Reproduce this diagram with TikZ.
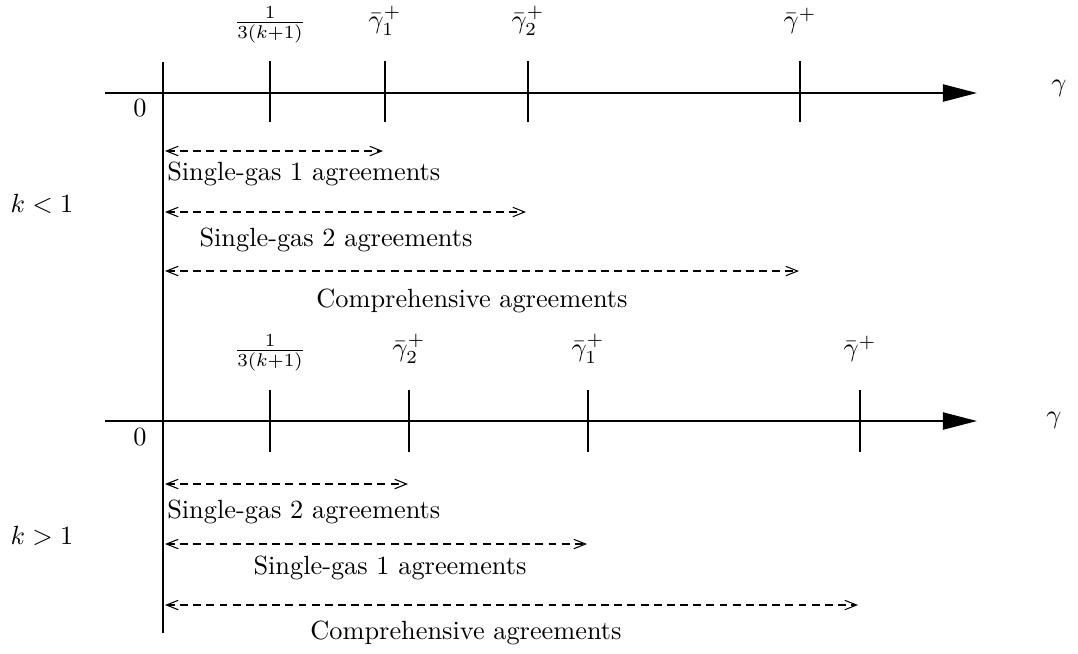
\documentclass[tikz,border=0pt]{standalone}
\usepackage{amsmath}
\usepackage{tikz}
\usetikzlibrary{arrows,arrows.meta}
\usetikzlibrary{calc}

\begin{document}
\begin{tikzpicture}[line cap=butt,line join=round,x=0.38pt,y=-0.38pt,
  axis/.style={line width=.8pt,-{Triangle[length=13pt,width=6.5pt]}},
  tick/.style={line width=.8pt},
  agreement/.style={{Straight Barb[length=4.5pt,width=3.6pt,line width=.4pt]}-{Straight Barb[length=4.5pt,width=3.6pt,line width=.4pt]},line width=.4pt,dash pattern=on 3pt off 2pt}]
\useasboundingbox (0,0) rectangle (1078,653);
% vertical axis
\draw[line width=.8pt] (163,62) -- (163,633);
%%%% case k < 1
\draw[axis] (105,93) -- (977,93);
\draw (1059,88) node {$\gamma$};
\draw (140,108) node {$0$};
\draw (270,25) node {$\frac{1}{3(k+1)}$};
\foreach \x/\lab in {385/{\bar{\gamma}_1^+},528/{\bar{\gamma}_2^+},800/{\bar{\gamma}^+}}
\draw (\x,21) node {$\lab$};
\foreach \x in {270,385,528,800}
\draw[tick] (\x,61) -- (\x,122);
\draw (42,204) node {$k<1$};
\draw[agreement] (165,151) -- (383,151);
\draw (158,174) node[right] {Single-gas 1 agreements};
\draw[agreement] (165,212) -- (526,212);
\draw (336,240) node {Single-gas 2 agreements};
\draw[agreement] (165,271) -- (799,271);
\draw (472,301) node {Comprehensive agreements};
%%%% case k > 1
\draw[axis] (105,421) -- (977,421);
\draw (1054,420) node {$\gamma$};
\draw (140,437) node {$0$};
\draw (270,353) node {$\frac{1}{3(k+1)}$};
\foreach \x/\lab in {409/{\bar{\gamma}_2^+},588/{\bar{\gamma}_1^+},860/{\bar{\gamma}^+}}
\draw (\x,349) node {$\lab$};
\foreach \x in {270,409,588,860}
\draw[tick] (\x,390) -- (\x,452);
\draw (42,536) node {$k>1$};
\draw[agreement] (165,484) -- (408,484);
\draw (158,512) node[right] {Single-gas 2 agreements};
\draw[agreement] (165,544) -- (587,544);
\draw (390,568) node {Single-gas 1 agreements};
\draw[agreement] (165,605) -- (858,605);
\draw (466,633) node {Comprehensive agreements};
\end{tikzpicture}
\end{document}
